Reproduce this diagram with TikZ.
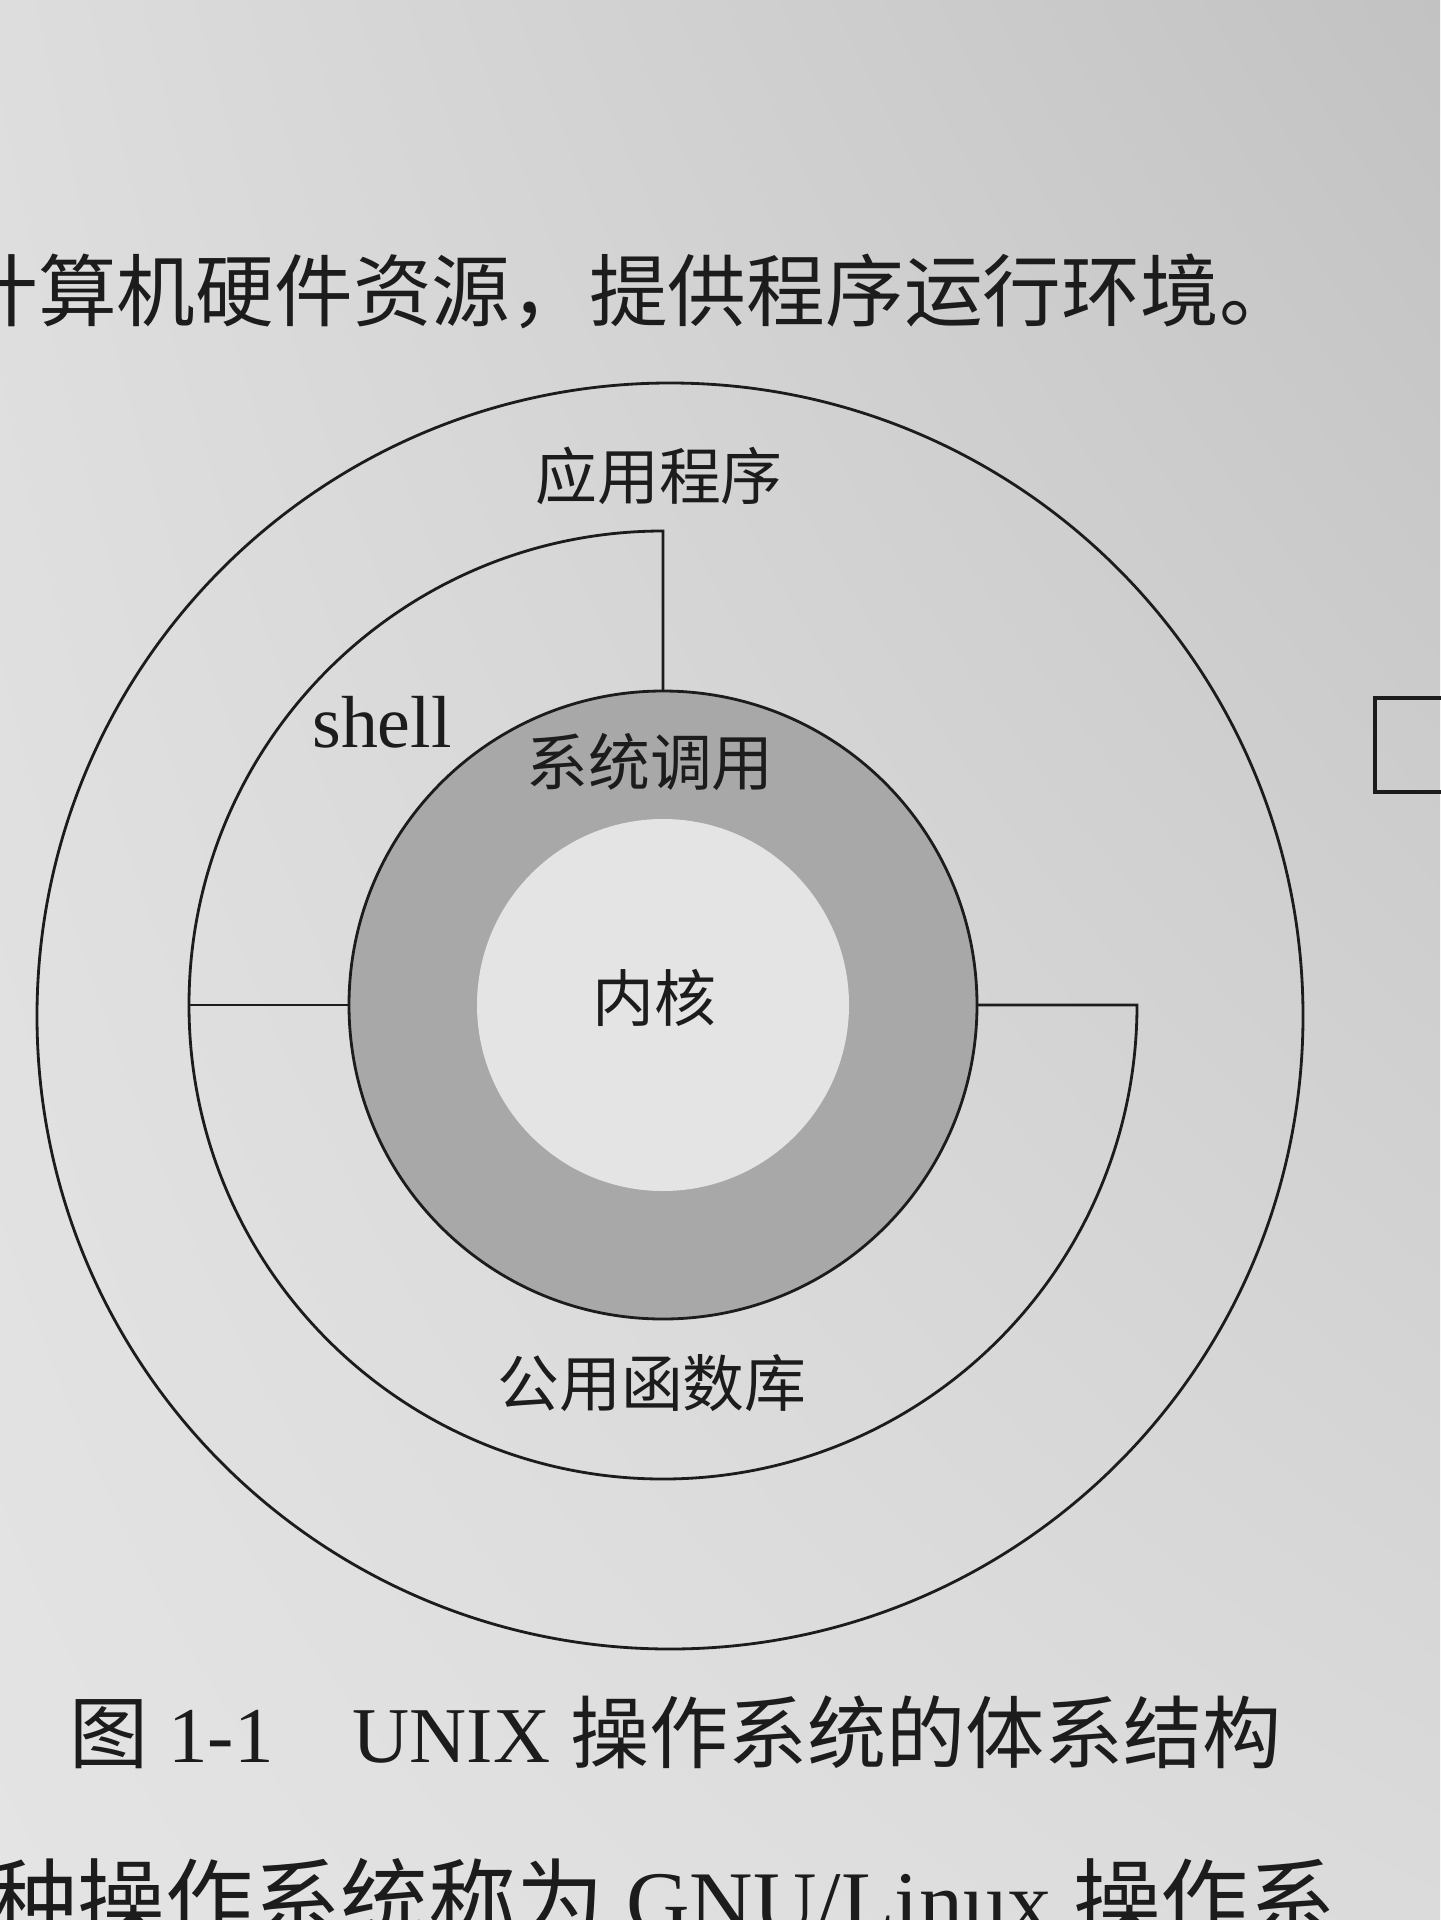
\documentclass[tikz,border=0pt]{standalone}
\usepackage{fontspec}
\setmainfont{Liberation Serif}
\newfontfamily\cjk{Noto Sans CJK SC}
\usepackage{xcolor}
\usetikzlibrary{shadings}
\definecolor{paper}{HTML}{E4E4E4}
\definecolor{paperdark}{HTML}{C2C2C2}
\definecolor{ringgray}{HTML}{A8A8A8}
\definecolor{ink}{HTML}{1C1C1C}
\tikzset{every picture/.style={line width=0.8pt}}
\tikzset{
  ring/.style={circle, draw=ink, inner sep=0pt, outer sep=0pt},
  zhlabel/.style={font=\cjk\fontsize{17.6}{21}\selectfont, text=ink, inner sep=0pt},
  pagetext/.style={font=\fontsize{22.4}{26}\selectfont, text=ink, inner sep=0pt, anchor=base west}
}

\begin{document}
\begin{tikzpicture}
\useasboundingbox (0,0) rectangle (14.4,-19.2);
\shade[upper left=paper!97!black, lower left=paper, lower right=paper!96!black, upper right=paperdark] (0,0) rectangle (14.4,-19.2);
%
\coordinate (co) at (6.70,-10.16);
\coordinate (c) at (6.63,-10.05);
%
\node[ring, minimum size=12.66cm] (apps) at (co) {};
\node[circle, inner sep=0pt, outer sep=0pt, minimum size=9.48cm] (shell) at (c) {};
\node[ring, fill=ringgray, minimum size=6.28cm] (syscall) at (c) {};
\node[circle, fill=paper, inner sep=0pt, minimum size=3.72cm] (kernel) at (c) {};
%
\draw[ink] (syscall.north) -- (shell.north) arc[start angle=90, end angle=360, radius=4.74cm] -- (syscall.east);
\draw[ink] (shell.west) -- (syscall.west);
%
\node[zhlabel] (appslabel) at (6.59,-4.76) {应用程序};
\node[font=\fontsize{21}{24}\selectfont, text=ink, inner sep=0pt, anchor=base] (shelllabel) at (3.82,-7.47) {shell};
\node[zhlabel] (syscalllabel) at (6.50,-7.62) {系统调用};
\node[zhlabel] (kernellabel) at (6.54,-9.98) {内核};
\node[zhlabel] (liblabel) at (6.52,-13.83) {公用函数库};
%
\node[pagetext, font=\cjk\fontsize{22.4}{26}\selectfont] (topline) at (-0.42,-3.21) {计算机硬件资源，提供程序运行环境。};
\node[pagetext, font=\fontsize{22.5}{26}\selectfont] (caption) at (0.68,-17.62) {{\cjk 图} 1-1\quad UNIX {\cjk 操作系统的体系结构}};
\node[pagetext, font=\fontsize{25}{29}\selectfont] (bottomline) at (-0.12,-19.32) {{\cjk 种操作系统称为} GNU/Linux {\cjk 操作系}};
%
\draw[ink, line width=1.4pt] (13.75,-6.98) rectangle (14.7,-7.92);
\end{tikzpicture}
\end{document}
